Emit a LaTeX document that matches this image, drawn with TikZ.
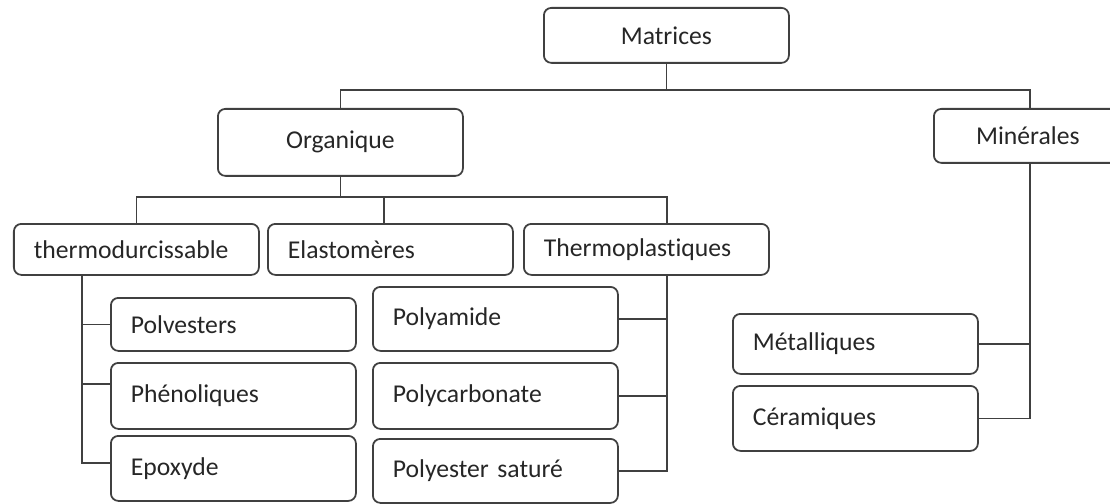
\documentclass[tikz,border=0pt]{standalone}
\usepackage{fontspec}
\setmainfont{Carlito}[Ligatures=NoCommon]

\tikzstyle{block} = [rectangle, draw=black!75, text=black!85, line width=1pt,
		rounded corners=1.5mm, minimum width=4.9cm, inner xsep=0.4cm,
		text width=4.1cm, anchor=north west, font=\fontsize{14.6}{17}\selectfont]
\tikzstyle{lblock} = [block, align=left]
\tikzstyle{cblock} = [block, align=center]
\tikzstyle{line} = [draw, line width=1pt, black!75]

\begin{document}
\begin{tikzpicture}
		\useasboundingbox (0,0) rectangle (22.2,-10.08);
		\clip (0,0) rectangle (22.2,-10.08);
		%top
		\node [cblock, minimum height=1.1cm] (mat) at (10.86,-0.14) {Matrices};
		\node [cblock, minimum height=1.34cm] (org) at (4.34,-2.16) {Organique};
		\node [cblock, minimum height=1.08cm, minimum width=3.76cm, text width=2.96cm] (minr) at (18.66,-2.16) {Minérales};
		%organique
		\node [lblock, minimum height=1.02cm] (tdur) at (0.26,-4.46) {thermodurcissable};
		\node [lblock, minimum height=1.02cm] (elas) at (5.34,-4.46) {Elastomères};
		\node [lblock, minimum height=1.02cm] (tplas) at (10.46,-4.46) {Thermoplastiques};
		%thermodurcissable
		\node [lblock, minimum height=1.06cm] (polv) at (2.2,-5.94) {Polvesters};
		\node [lblock, minimum height=1.32cm] (phen) at (2.2,-7.24) {Phénoliques};
		\node [lblock, minimum height=1.3cm] (epox) at (2.2,-8.7) {Epoxyde};
		%thermoplastiques
		\node [lblock, minimum height=1.28cm] (pam) at (7.44,-5.72) {Polyamide};
		\node [lblock, minimum height=1.32cm] (pcarb) at (7.44,-7.24) {Polycarbonate};
		\node [lblock, minimum height=1.28cm] (psat) at (7.44,-8.76) {Polyester saturé};
		%minerales
		\node [lblock, minimum height=1.2cm] (met) at (14.64,-6.26) {Métalliques};
		\node [lblock, minimum height=1.3cm] (cer) at (14.64,-7.7) {Céramiques};
		
		%bus lines
		\coordinate (busA) at (20.6,-1.8);
		\coordinate (busB) at (13.34,-3.94);
		\coordinate (trA) at (1.64,0);
		\coordinate (trB) at (13.34,0);
		\coordinate (trC) at (20.6,0);
		
		%connectors
		\draw[line] (mat.south) -- (mat.south |- busA);
		\draw[line] (org.north) |- (busA) -- (busA |- minr.north);
		\draw[line] (org.south) -- (org.south |- busB);
		\draw[line] (tdur.north) |- (busB) -- (busB |- tplas.north);
		\draw[line] ([xshift=-1.3mm]elas.north) -- ([xshift=-1.3mm]elas.north |- busB);
		
		\draw[line] (tdur.south -| trA) |- ([yshift=1.1mm]epox.west);
		\draw[line] (polv.west) -- (polv.west -| trA);
		\draw[line] ([yshift=2.4mm]phen.west) -- ([yshift=2.4mm]phen.west -| trA);
		
		\draw[line] (tplas.south -| trB) |- (psat.east);
		\draw[line] (pam.east) -- (pam.east -| trB);
		\draw[line] (pcarb.east) -- (pcarb.east -| trB);
		
		\draw[line] (minr.south -| trC) |- (cer.east);
		\draw[line] (met.east) -- (met.east -| trC);
		
\end{tikzpicture}
\end{document}
